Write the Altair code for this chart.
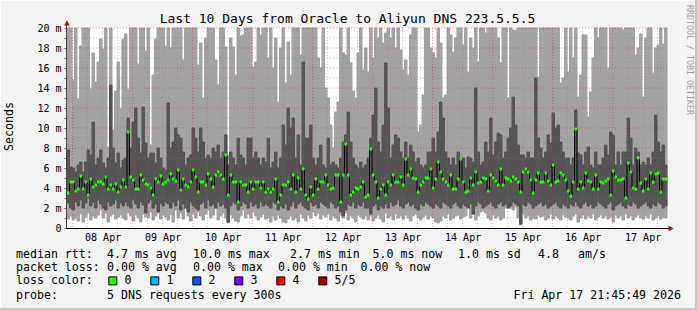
import altair as alt
import pandas as pd
from datetime import datetime, timedelta

MONO = "DejaVu Sans Mono"
LEFT, TOP = 67, 28
W, H = 600, 200

# ---- data (ms), one value per hourly bar, 240 bars ----
light_top = [
    20, 20, 14.8, 20, 12.9, 18.2, 20, 20, 20, 13.9, 17.5, 14.6, 16.6, 18.9, 17.9, 20, 8.1, 20, 9.8, 13.7,
    16.6, 11.9, 18.9, 19.4, 13.9, 20, 20, 20, 16.4, 20, 20, 17.7, 20, 8.3, 15.3, 18.9, 20, 20, 20, 18.2,
    20, 18.0, 20, 20, 20, 20, 16.8, 20, 20, 20, 20, 20, 16.3, 18.5, 13.0, 19.0, 20, 20, 20, 16.8,
    14.3, 20, 20, 18.1, 7.3, 19.0, 18.1, 15.3, 20, 19.2, 19.3, 20, 20, 20, 16.1, 16.6, 20, 19.3, 20, 20,
    17.0, 20, 16.0, 19.0, 12.6, 18.0, 20, 14.5, 18.6, 15.3, 20, 20, 20, 17.3, 20, 20, 20, 20, 20, 20,
    17.0, 16.0, 20, 14.0, 13.0, 10.3, 8.0, 11.6, 12.6, 20, 17.5, 17.3, 20, 16.5, 13.7, 13.0, 17.5, 20, 15.8, 18.0,
    15.6, 20, 17.0, 20, 19.0, 20, 18.5, 19.5, 20, 19.0, 20, 18.0, 20, 17.8, 15.8, 16.8, 15.3, 19.3, 20, 20,
    9.6, 10.3, 13.3, 20, 20, 18.0, 17.5, 17.0, 20, 18.5, 13.0, 13.3, 20, 19.3, 17.6, 19.0, 20, 20, 18.3, 20,
    15.6, 19.0, 18.0, 20, 16.6, 20, 20, 19.5, 20, 20, 20, 20, 19.0, 16.5, 20, 20, 13.0, 20, 19.8, 19.8,
    20, 20, 20, 20, 20, 20, 20, 20, 15.1, 20, 20, 20, 20, 20, 20, 20, 20, 14.5, 15.0, 20,
    15.6, 20, 17.0, 20, 13.1, 15.3, 19.3, 19.3, 11.1, 13.6, 17.0, 20, 19.0, 20, 20, 20, 16.0, 20, 20, 20,
    20, 20, 19.8, 20, 20, 20, 20, 17.3, 18.0, 19.4, 13.1, 19.0, 20, 20, 15.5, 18.0, 18.3, 20, 18.4, 20,
]
light_bot = [
    0.9, 1.2, 0.8, 1.0, 0.7, 1.4, 0.6, 1.1, 1.5, 0.8, 1.2, 1.0, 1.3, 1.8, 1.0, 1.5, 0.6, 1.2, 1.4, 0.9,
    1.1, 1.3, 1.0, 0.8, 1.5, 1.2, 0.7, 1.3, 1.0, 0.6, 1.4, 1.1, 1.0, 1.6, 0.8, 1.2, 1.5, 0.9, 1.3, 1.1,
    0.8, 1.3, 0.6, 1.8, 1.0, 1.5, 0.9, 2.0, 1.2, 0.7, 1.4, 1.0, 1.6, 1.2, 0.8, 1.4, 1.8, 1.0, 1.3, 2.0,
    0.8, 1.2, 1.5, 1.0, 0.5, 1.3, 1.0, 0.7, 0.6, 1.2, 1.8, 1.0, 1.4, 1.0, 1.6, 1.2, 0.8, 1.1, 1.4, 0.9,
    1.0, 0.6, 1.2, 0.8, 1.3, 1.0, 0.6, 0.5, 0.9, 1.2, 0.8, 1.0, 0.6, 1.4, 1.0, 0.7, 1.3, 1.0, 1.6, 1.2,
    1.5, 0.9, 1.3, 1.1, 1.4, 0.8, 1.2, 1.0, 0.7, 1.3, 1.0, 1.5, 0.8, 1.2, 1.0, 0.6, 1.3, 1.1, 0.9, 1.2,
    0.8, 1.2, 0.7, 1.0, 1.3, 0.9, 0.6, 1.5, 1.0, 1.2, 0.8, 1.4, 1.0, 1.2, 0.9, 1.3, 1.0, 0.7, 1.2, 1.4,
    1.0, 0.8, 1.1, 1.3, 0.9, 1.2, 1.0, 0.6, 0.5, 0.7, 1.2, 1.0, 1.4, 0.8, 1.0, 1.2, 1.3, 0.9, 1.1, 1.2,
    2.3, 1.0, 1.4, 0.8, 1.2, 1.6, 1.7, 1.5, 1.0, 0.8, 1.3, 1.0, 1.2, 0.8, 1.0, 2.0, 2.1, 2.0, 1.8, 2.1,
    1.0, 0.3, 1.4, 1.0, 1.2, 0.8, 1.0, 0.9, 1.3, 1.1, 1.2, 0.8, 1.0, 1.4, 0.9, 1.2, 1.0, 0.8, 1.3, 1.1,
    1.0, 0.8, 1.2, 1.4, 0.6, 1.0, 1.3, 0.9, 1.2, 1.0, 1.4, 0.8, 1.1, 1.3, 1.0, 1.2, 0.9, 1.1, 0.6, 1.3,
    1.0, 1.2, 0.8, 1.4, 1.0, 1.2, 0.8, 1.1, 1.3, 1.0, 0.9, 1.2, 1.0, 1.4, 0.8, 1.0, 1.2, 0.9, 1.1, 1.0,
]
dark_top = [
    7.8, 6.1, 6.0, 5.6, 6.3, 6.6, 5.6, 6.6, 7.8, 7.3, 10.6, 6.3, 7.0, 7.8, 6.5, 6.0, 7.0, 14.3, 8.0, 6.5,
    7.5, 6.0, 6.8, 7.0, 11.0, 8.0, 10.6, 12.0, 9.0, 7.5, 12.1, 8.5, 7.0, 7.5, 7.5, 6.5, 8.0, 7.0, 6.0, 5.8,
    12.5, 8.0, 8.6, 10.0, 9.3, 9.0, 7.6, 6.3, 7.0, 7.3, 10.0, 9.0, 7.6, 10.0, 8.6, 7.0, 7.3, 7.0, 8.0, 7.6,
    8.3, 7.0, 7.6, 9.3, 6.3, 7.6, 7.0, 6.3, 9.0, 7.3, 7.0, 6.3, 9.0, 9.0, 7.0, 7.6, 7.0, 6.3, 7.0, 6.6,
    9.0, 6.0, 6.6, 7.6, 6.0, 7.0, 10.3, 8.3, 12.0, 10.0, 11.0, 7.0, 9.3, 6.3, 16.6, 9.0, 9.0, 10.3, 7.0, 6.3,
    7.0, 8.3, 6.3, 6.0, 9.0, 6.3, 6.6, 6.3, 6.0, 7.0, 8.6, 9.3, 11.6, 8.6, 7.0, 6.3, 6.0, 6.6, 6.0, 6.3,
    7.0, 9.0, 11.3, 14.0, 8.6, 7.6, 10.3, 16.5, 12.0, 7.0, 8.3, 9.3, 9.0, 7.6, 7.0, 8.6, 7.0, 8.3, 7.6, 6.6,
    7.0, 6.3, 6.0, 6.3, 7.6, 7.6, 9.0, 7.6, 9.6, 12.6, 11.0, 7.6, 7.0, 6.3, 7.0, 6.3, 7.6, 7.0, 7.0, 6.0,
    7.1, 7.0, 6.6, 14.0, 7.6, 6.3, 6.6, 8.6, 7.6, 11.0, 7.3, 8.6, 9.5, 9.3, 7.0, 7.6, 9.0, 10.0, 13.1, 10.3,
    8.3, 7.3, 7.3, 7.0, 7.6, 7.0, 7.0, 15.0, 9.0, 8.0, 7.0, 7.6, 9.3, 8.5, 11.5, 10.0, 10.3, 8.6, 7.6, 7.0,
    7.0, 6.3, 7.0, 11.8, 7.5, 7.3, 6.3, 7.6, 8.1, 6.3, 6.0, 7.6, 6.3, 6.3, 7.0, 8.3, 7.3, 9.6, 9.3, 6.3,
    7.6, 6.3, 7.6, 7.6, 11.0, 9.0, 6.3, 8.0, 7.6, 6.3, 6.6, 6.3, 7.0, 6.3, 7.6, 11.3, 8.6, 7.6, 8.3, 6.3,
]
dark_bot = [
    2.5, 2.0, 1.8, 2.6, 2.2, 2.8, 2.0, 2.5, 3.0, 2.2, 2.6, 2.0, 2.8, 2.4, 2.0, 1.8, 2.6, 2.2, 2.4, 2.8,
    2.0, 2.5, 2.2, 2.6, 2.2, 2.0, 2.8, 2.4, 2.0, 2.6, 2.3, 1.5, 2.5, 2.8, 2.0, 2.4, 1.6, 2.5, 2.2, 2.6,
    2.4, 2.0, 2.6, 2.2, 2.8, 1.8, 2.4, 2.0, 1.6, 2.6, 2.2, 2.0, 1.8, 2.4, 2.6, 2.0, 2.8, 2.2, 2.4, 2.0,
    2.6, 2.2, 2.4, 2.0, 0.6, 2.2, 2.6, 2.4, 1.8, 2.2, 2.6, 2.4, 2.0, 2.6, 2.2, 2.4, 2.0, 2.6, 2.2, 2.4,
    2.2, 2.0, 2.6, 2.4, 1.8, 2.2, 2.0, 2.4, 1.8, 2.2, 2.6, 2.0, 2.4, 2.6, 2.2, 2.0, 1.8, 2.6, 2.2, 2.4,
    2.0, 2.6, 2.4, 2.2, 2.0, 2.6, 2.4, 2.0, 2.2, 1.6, 1.2, 1.8, 2.4, 2.2, 2.6, 2.0, 2.4, 2.2, 2.6, 2.0,
    2.0, 1.4, 2.2, 2.4, 1.8, 2.2, 2.0, 2.4, 2.0, 2.6, 2.2, 2.4, 2.8, 2.2, 2.0, 2.4, 2.6, 2.2, 2.4, 2.0,
    1.8, 2.4, 2.2, 2.6, 2.4, 2.2, 2.0, 2.4, 2.2, 2.0, 2.6, 2.4, 2.2, 2.0, 2.4, 2.6, 2.2, 2.0, 2.4, 2.2,
    2.0, 2.4, 1.4, 2.2, 2.6, 2.4, 2.0, 2.2, 2.4, 2.6, 2.2, 2.0, 2.4, 2.6, 2.2, 2.4, 2.0, 2.2, 2.6, 2.4,
    2.2, 0.4, 2.4, 2.2, 2.6, 2.4, 2.0, 2.2, 2.4, 2.6, 2.2, 2.4, 2.0, 2.2, 2.4, 2.6, 2.2, 2.0, 2.4, 2.2,
    2.0, 2.4, 2.2, 2.6, 2.2, 2.0, 2.4, 2.6, 2.2, 2.4, 2.0, 2.2, 2.6, 2.4, 2.2, 2.0, 2.4, 2.6, 1.8, 2.2,
    2.4, 2.6, 2.2, 2.0, 2.4, 2.2, 2.6, 2.4, 2.0, 2.2, 2.4, 2.6, 2.2, 2.0, 2.4, 2.2, 2.6, 2.4, 2.0, 2.2,
]
median_rtt = [
    3.5, 4.6, 4.6, 3.7, 3.9, 5.2, 3.9, 4.6, 3.3, 4.9, 4.1, 4.3, 4.6, 4.6, 4.4, 5.1, 3.9, 4.3, 3.9, 4.4,
    3.6, 4.1, 4.8, 4.1, 9.6, 5.1, 4.8, 3.9, 3.9, 5.3, 4.8, 4.4, 4.3, 4.0, 3.3, 4.9, 4.6, 5.2, 4.4, 4.6,
    4.8, 5.4, 4.9, 4.7, 5.8, 3.8, 4.9, 4.3, 4.1, 4.6, 5.8, 5.1, 3.6, 4.6, 4.6, 4.3, 5.4, 4.9, 4.1, 5.3,
    5.6, 5.3, 4.9, 7.3, 3.3, 5.3, 4.6, 4.6, 2.6, 4.6, 4.3, 4.3, 3.6, 4.6, 3.9, 4.6, 4.6, 4.0, 4.6, 3.6,
    3.9, 3.6, 3.9, 4.9, 2.6, 3.3, 4.3, 4.3, 4.6, 3.9, 5.3, 3.6, 5.0, 3.9, 5.9, 3.3, 2.9, 4.1, 3.3, 4.9,
    3.9, 4.6, 4.6, 5.3, 4.3, 3.9, 4.0, 5.3, 5.3, 2.6, 5.3, 8.4, 5.3, 3.3, 3.6, 4.0, 3.9, 4.1, 4.6, 3.1,
    3.3, 7.9, 5.3, 4.6, 3.0, 3.9, 4.3, 3.3, 4.6, 4.3, 5.3, 4.6, 4.6, 5.1, 4.3, 6.9, 5.3, 5.9, 5.0, 4.9,
    3.6, 4.3, 4.6, 5.0, 5.0, 5.9, 4.0, 4.9, 6.6, 5.6, 4.9, 4.6, 4.3, 5.3, 3.9, 3.9, 4.9, 6.9, 4.6, 3.6,
    3.7, 5.0, 4.3, 5.6, 4.5, 4.6, 5.0, 4.9, 3.7, 5.3, 5.0, 4.7, 4.3, 5.9, 4.3, 5.0, 4.9, 4.7, 5.1, 4.9,
    4.6, 3.6, 5.6, 5.9, 5.6, 4.8, 3.5, 4.8, 5.5, 4.6, 4.6, 5.5, 4.7, 4.3, 6.3, 4.6, 4.7, 5.5, 5.3, 4.8,
    3.7, 3.2, 4.6, 9.9, 3.9, 4.6, 4.0, 5.5, 4.7, 4.6, 3.9, 5.3, 3.9, 4.6, 4.5, 4.7, 4.9, 3.3, 5.7, 5.1,
    4.8, 4.8, 4.9, 3.0, 6.5, 5.6, 4.0, 3.9, 7.0, 4.5, 3.7, 4.9, 3.9, 5.5, 4.6, 5.4, 5.5, 3.6, 4.9, 4.9,
]
# packet loss class of every bar: the picture shows 0 loss everywhere (all medians green)
loss_class = ["0"] * len(median_rtt)
loss_levels = ["0", "1", "2", "3", "4", "5/5"]
loss_colors = ["#26ff00", "#00b8ff", "#0059ff", "#7e00ff", "#ff0000", "#a10000"]

line1 = [("median rtt:", 16), ("4.7 ms avg", 107), ("10.0 ms max", 193), ("2.7 ms min", 290),
         ("5.0 ms now", 372.5), ("1.0 ms sd", 458), ("4.8", 538), ("am/s", 578)]
line2 = [("packet loss:", 16), ("0.00 % avg", 107), ("0.00 % max", 193), ("0.00 % min", 278),
         ("0.00 % now", 360.5)]
line4 = [("probe:", 16), ("5 DNS requests every 300s", 107)]
stamp = "Fri Apr 17 21:45:49 2026"
title_text = "Last 10 Days from Oracle to Aliyun DNS 223.5.5.5"

# ---- time axis (hours since start of window) ----
t_start = datetime(2026, 4, 7, 21, 45)
n = len(median_rtt)


def hrs(t):
    return (t - t_start).total_seconds() / 3600.0


first_midnight = datetime(2026, 4, 8)
day_marks = [hrs(first_midnight + timedelta(days=k)) for k in range(10)]
six_marks = [hrs(first_midnight + timedelta(hours=6 * k)) for k in range(40) if k % 4]
noon_marks = [d + 12 for d in day_marks]
y_major = list(range(2, 21, 2))
y_minor = list(range(1, 20, 2))

df = pd.DataFrame({
    "h0": list(range(n)),
    "h1": [i + 1 for i in range(n)],
    "hc": [i + 0.5 for i in range(n)],
    "lt": light_top, "lb": light_bot, "dt": dark_top, "db": dark_bot, "med": median_rtt,
    "loss": loss_class,
})

xs = alt.Scale(domain=[0, n], nice=False, zero=False)
ys = alt.Scale(domain=[0, 20], nice=False, clamp=True)

x_axis = alt.Axis(values=noon_marks, grid=False, ticks=False, tickSize=0, domain=False, title=None,
                  labelExpr="timeFormat(time(datetime(2026, 3, 7, 21, 45)) + datum.value * 3600000, '%d %b')",
                  labelFont=MONO, labelFontSize=10, labelColor="#000", labelPadding=4,
                  labelFlush=False, labelOverlap=False, labelBound=False)
y_axis = alt.Axis(values=list(range(0, 21)), grid=False, domain=False, title=None,
                  labelExpr="datum.value % 2 ? '' : (datum.value == 0 ? '0' : datum.value + ' m')",
                  labelFont=MONO, labelFontSize=10, labelColor="#000", labelPadding=3,
                  tickSize=3, tickColor="#666", labelOverlap=False, labelBound=False,
                  labelFlush=False)


def X(field):
    return alt.X(field, scale=xs, axis=x_axis)


def Y(field):
    return alt.Y(field, scale=ys, axis=y_axis)


LIGHT, DARK = "#a3a3a3", "#555555"

light = alt.Chart(df).mark_rect(fill=LIGHT, stroke=LIGHT, strokeWidth=1).encode(
    x=X("h0:Q"), x2="h1:Q", y=Y("lb:Q"), y2="lt:Q")
dark = alt.Chart(df).mark_rect(fill=DARK, stroke=DARK, strokeWidth=1).encode(
    x=X("h0:Q"), x2="h1:Q", y=Y("db:Q"), y2="dt:Q")


def hgrid(vals, color, op):
    return alt.Chart(pd.DataFrame({"v": vals})).mark_rule(
        color=color, strokeDash=[1, 2], strokeWidth=1, opacity=op).encode(y=Y("v:Q"))


def vgrid(vals, color, op):
    return alt.Chart(pd.DataFrame({"v": vals})).mark_rule(
        color=color, strokeDash=[1, 2], strokeWidth=1, opacity=op).encode(x=X("v:Q"))


grids = [hgrid(y_minor, "#808080", 0.45), vgrid(six_marks, "#808080", 0.45),
         hgrid(y_major, "#ff0000", 0.38), vgrid(day_marks, "#ff0000", 0.38)]

med_line = alt.Chart(df).mark_line(interpolate="step-after", color="#000", strokeWidth=1).encode(
    x=X("h0:Q"), y=Y("med:Q"))

loss_legend = alt.Legend(
    title="loss color:", orient="none", legendX=16 - LEFT, legendY=275 - TOP,
    direction="horizontal", titleOrient="left", titleFont=MONO, titleFontSize=11.6,
    titleFontWeight="normal", titleColor="#000", titlePadding=14, titleBaseline="middle",
    labelFont=MONO, labelFontSize=11.6, labelColor="#000", labelOffset=6,
    symbolType="square", symbolSize=64, symbolStrokeColor="#000", symbolStrokeWidth=1,
    symbolOpacity=1, columnPadding=16, padding=0)

med_ticks = alt.Chart(df).mark_tick(orient="horizontal", size=2.6, thickness=3, opacity=1).encode(
    x=X("hc:Q"), y=Y("med:Q"),
    color=alt.Color("loss:N", scale=alt.Scale(domain=loss_levels, range=loss_colors),
                    legend=loss_legend))

one = pd.DataFrame({"k": [0]})


def txt(s, x, y, size=11.6, align="left", baseline="alphabetic", angle=0, color="#000"):
    return alt.Chart(one).mark_text(text=s, font=MONO, fontSize=size, align=align,
                                    baseline=baseline, angle=angle, color=color).encode(
        x=alt.value(x - LEFT), y=alt.value(y - TOP))


def hline(x1, x2, y, color, w):
    return alt.Chart(one).mark_rule(color=color, strokeWidth=w).encode(
        x=alt.value(x1 - LEFT), x2=alt.value(x2 - LEFT), y=alt.value(y - TOP))


def vline(x, y1, y2, color, w):
    return alt.Chart(one).mark_rule(color=color, strokeWidth=w).encode(
        x=alt.value(x - LEFT), y=alt.value(y1 - TOP), y2=alt.value(y2 - TOP))


decor = [
    vline(66.5, 21, 228, "#444", 1),
    hline(66.5, 670, 228.5, "#000", 1),
    alt.Chart(one).mark_point(shape="triangle-up", filled=True, size=32, color="#a01010", opacity=1).encode(
        x=alt.value(67 - LEFT), y=alt.value(23 - TOP)),
    alt.Chart(one).mark_point(shape="triangle-right", filled=True, size=32, color="#a01010", opacity=1).encode(
        x=alt.value(671 - LEFT), y=alt.value(228.5 - TOP)),
    hline(0, 697, 0.5, "#ffffff", 1),
    vline(0.5, 0, 310, "#ffffff", 1),
    hline(0, 697, 309, "#c4c4c4", 2),
    vline(696, 0, 310, "#c4c4c4", 2),
]

texts = [txt(title_text, 347.5, 22.5, size=13, align="center"),
         txt("Seconds", 10, 126.5, align="center", baseline="middle", angle=270),
         txt("RRDTOOL / TOBI OETIKER", 688.5, 60, size=8.3, align="center", baseline="middle",
             angle=90, color="#a0a0a0")]
texts += [txt(s, x, 257.5) for s, x in line1]
texts += [txt(s, x, 271.3) for s, x in line2]
texts += [txt(s, x, 298.5) for s, x in line4]
texts.append(txt(stamp, 681, 298.5, align="right"))

chart = alt.layer(light, dark, *grids, med_line, med_ticks, *decor, *texts).properties(
    width=W, height=H,
    autosize=alt.AutoSizeParams(type="none"),
    padding={"left": LEFT, "top": TOP, "right": 697 - LEFT - W, "bottom": 310 - TOP - H},
    background="#f3f3f3",
).configure_view(stroke=None, fill="#ffffff")

chart.save("out.html", embed_options={"renderer": "svg", "actions": False})
